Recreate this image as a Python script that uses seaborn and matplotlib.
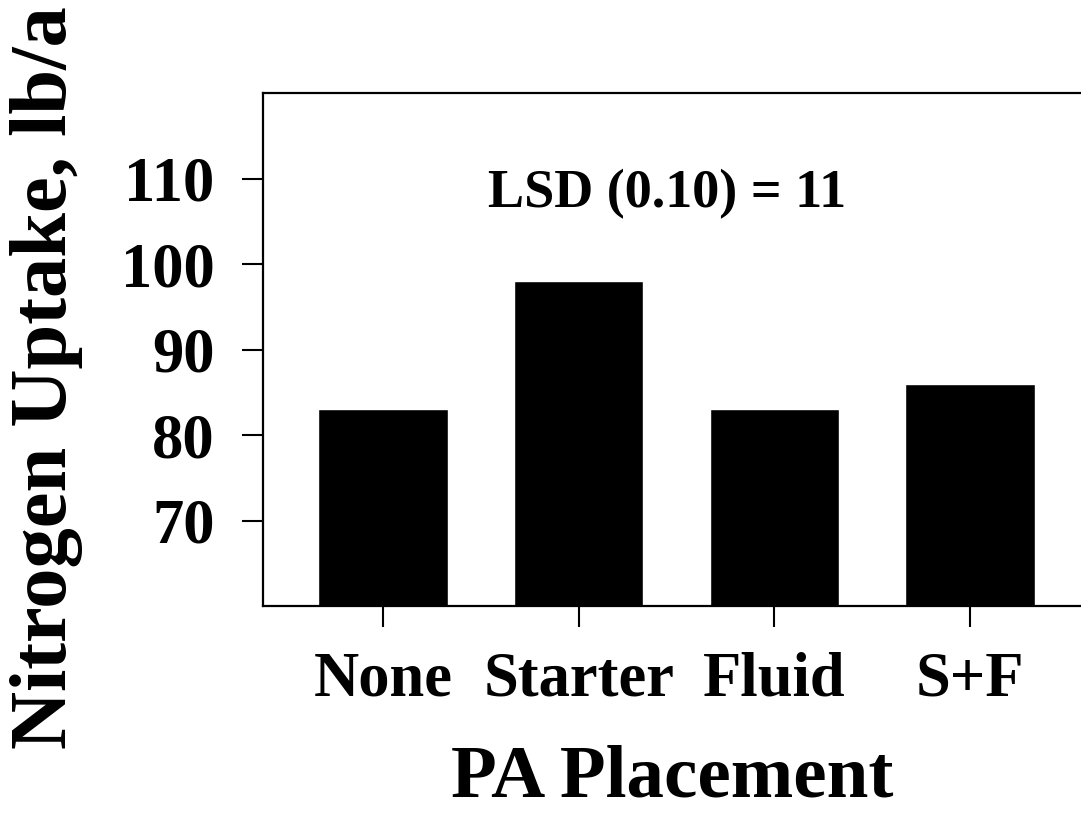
import matplotlib
matplotlib.use("Agg")
import matplotlib.pyplot as plt
import seaborn as sns
import pandas as pd

# values
placements = ["None", "Starter", "Fluid", "S+F"]
n_uptake = [83, 98, 83, 86]
y_ticks = [70, 80, 90, 100, 110]
lsd_text = "LSD (0.10) = 11"

df = pd.DataFrame({"placement": placements, "uptake": n_uptake})

sns.set_theme(style="ticks")
plt.rcParams["font.family"] = ["Liberation Serif", "DejaVu Serif"]
plt.rcParams["font.weight"] = "bold"
plt.rcParams["text.color"] = "black"
plt.rcParams["axes.labelcolor"] = "black"
plt.rcParams["xtick.color"] = "black"
plt.rcParams["ytick.color"] = "black"

fig = plt.figure(figsize=(10.81, 8.14), dpi=100)
ax = fig.add_axes([0.2433, 0.2555, 0.7567, 0.6302])

sns.barplot(data=df, x="placement", y="uptake", color="black",
            saturation=1, width=0.66, ax=ax)

ax.set_ylim(60, 120)
ax.set_xlim(-0.613, 3.567)
ax.set_yticks(y_ticks)

ax.text(1.45, 106.6, lsd_text, ha="center", va="baseline",
        fontsize=39, fontweight="bold", color="black")

ax.set_xlabel("PA Placement", fontsize=54, fontweight="bold", labelpad=25)
ax.set_ylabel("Nitrogen Uptake, lb/a", fontsize=58, fontweight="bold")
ax.yaxis.set_label_coords(-0.22, 0.446)

ax.tick_params(axis="both", labelsize=45, length=15, width=1.5,
               direction="out", colors="black")
ax.tick_params(axis="y", pad=20)
ax.tick_params(axis="x", pad=18)
for lab in ax.get_xticklabels() + ax.get_yticklabels():
    lab.set_fontweight("bold")

for side in ["left", "bottom", "top"]:
    ax.spines[side].set_linewidth(1.6)
    ax.spines[side].set_color("black")
ax.spines["right"].set_visible(False)

fig.savefig("out.png", dpi=100)
